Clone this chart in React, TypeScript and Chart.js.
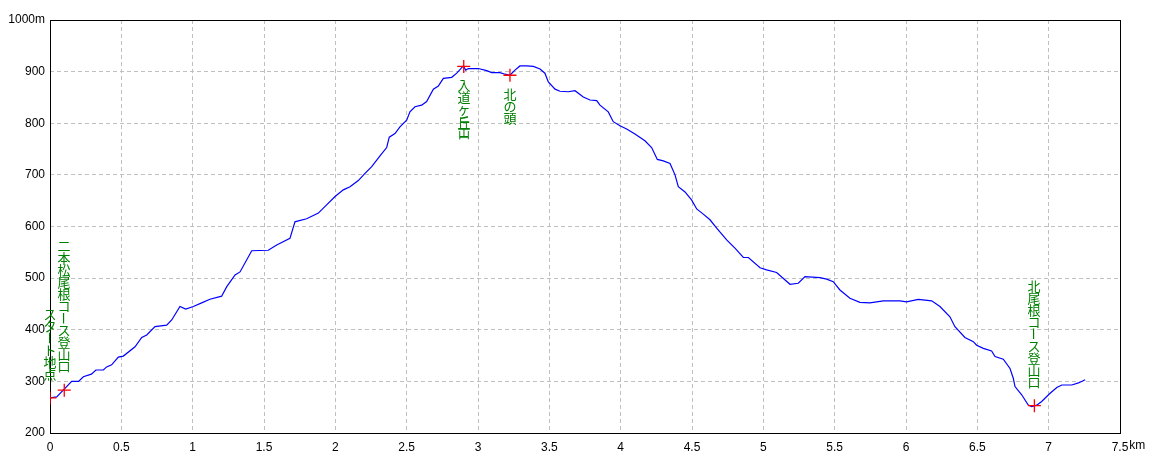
import React, { useEffect, useRef } from "react";
import { Chart, registerables } from "chart.js";

Chart.register(...registerables);

// Elevation profile (distance in km, elevation in m)
const distanceKm = [
  0, 0.047, 0.093, 0.152, 0.2, 0.234, 0.29, 0.322, 0.374, 0.397,
  0.432, 0.479, 0.514, 0.596, 0.643, 0.678, 0.736, 0.818, 0.853, 0.911,
  0.951, 1.005, 1.063, 1.121, 1.203, 1.238, 1.297, 1.332, 1.414, 1.53,
  1.589, 1.682, 1.717, 1.741, 1.799, 1.881, 1.939, 1.998, 2.056, 2.103,
  2.161, 2.208, 2.255, 2.313, 2.36, 2.378, 2.418, 2.453, 2.5, 2.523,
  2.558, 2.605, 2.64, 2.687, 2.722, 2.757, 2.816, 2.851, 2.897, 2.914,
  2.932, 3.002, 3.061, 3.096, 3.154, 3.189, 3.224, 3.259, 3.294, 3.341,
  3.388, 3.435, 3.469, 3.493, 3.54, 3.575, 3.633, 3.68, 3.738, 3.785,
  3.832, 3.855, 3.913, 3.948, 3.995, 4.042, 4.1, 4.17, 4.217, 4.257,
  4.299, 4.346, 4.381, 4.404, 4.451, 4.498, 4.533, 4.579, 4.626, 4.673,
  4.743, 4.801, 4.86, 4.895, 4.977, 5.023, 5.093, 5.187, 5.245, 5.292,
  5.397, 5.444, 5.49, 5.537, 5.607, 5.677, 5.747, 5.841, 5.958, 6.004,
  6.086, 6.18, 6.238, 6.308, 6.343, 6.413, 6.472, 6.495, 6.542, 6.6,
  6.624, 6.682, 6.729, 6.752, 6.764, 6.811, 6.857, 6.881, 6.916, 6.951,
  7.01, 7.057, 7.092, 7.162, 7.209, 7.256,
];

const elevationM = [
  268, 270, 283, 300, 300, 309, 314, 322, 322, 328,
  332, 347, 349, 367, 385, 390, 406, 409, 419, 445,
  440, 445, 452, 459, 465, 483, 506, 512, 553, 554,
  564, 577, 609, 611, 615, 626, 642, 658, 671, 677,
  689, 703, 716, 737, 753, 773, 780, 793, 806, 822,
  832, 835, 842, 866, 872, 887, 889, 897, 911, 903,
  906, 906, 902, 898, 898, 895, 893, 903, 911, 911,
  910, 905, 897, 880, 866, 862, 861, 863, 851, 845,
  844, 835, 822, 803, 795, 789, 779, 766, 753, 730,
  727, 722, 700, 677, 667, 651, 634, 624, 613, 597,
  574, 558, 540, 540, 520, 516, 511, 488, 490, 503,
  501, 498, 493, 477, 461, 453, 452, 456, 456, 454,
  459, 456, 445, 425, 406, 385, 377, 370, 364, 359,
  348, 343, 325, 306, 290, 274, 254, 251, 254, 261,
  277, 288, 293, 293, 297, 303,
];

// Waypoints
const waypointNames = ["スタート地点", "二本松尾根コース登山口", "入道ヶ岳", "北の頭", "北尾根コース登山口"];
const waypointDistKm = [0, 0.1, 2.9, 3.224, 6.9];
const waypointElevM = [268, 283, 910, 893, 253];

// Axis ticks
const xMin = 0;
const xMax = 7.5;
const xStep = 0.5;
const yMin = 200;
const yMax = 1000;
const yStep = 100;
const xUnit = "km";
const yUnit = "m";

const tickFamily = '"Liberation Sans Narrow", "Liberation Sans", Arial, sans-serif';
const tickFont = `12px ${tickFamily}`;
const labelFont = '13px "Noto Sans CJK JP", sans-serif';

const framePlugin = {
  id: "frame",
  beforeDatasetsDraw(chart: any) {
    const { ctx, chartArea } = chart;
    ctx.save();
    ctx.strokeStyle = "#000000";
    ctx.lineWidth = 1;
    ctx.setLineDash([]);
    ctx.strokeRect(
      Math.round(chartArea.left) + 0.5,
      Math.round(chartArea.top) + 0.5,
      Math.round(chartArea.right - chartArea.left),
      Math.round(chartArea.bottom - chartArea.top)
    );
    ctx.restore();
  },
  afterDraw(chart: any) {
    const { ctx } = chart;
    const x = chart.scales.x;
    const y = chart.scales.y;
    ctx.save();
    ctx.font = tickFont;
    ctx.fillStyle = "#000000";
    ctx.textBaseline = "top";
    ctx.textAlign = "left";
    const lastLabel = String(xMax);
    const w = ctx.measureText(lastLabel).width;
    const px = x.getPixelForValue(xMax) + w / 2 + 1;
    ctx.fillText(xUnit, px, y.bottom + 7);
    ctx.restore();
  },
};

const labelPlugin = {
  id: "waypointLabels",
  afterDatasetsDraw(chart: any) {
    const { ctx } = chart;
    const x = chart.scales.x;
    const y = chart.scales.y;
    const pitch = 12;
    ctx.save();
    ctx.fillStyle = "#008000";
    ctx.font = labelFont;
    ctx.textAlign = "center";
    ctx.textBaseline = "middle";
    waypointNames.forEach((name, i) => {
      const px = Math.round(x.getPixelForValue(waypointDistKm[i]));
      const py = y.getPixelForValue(waypointElevM[i]);
      const chars = Array.from(name);
      const cells = chars.map((c) => (c === "岳" ? 2 : 1));
      const total = cells.reduce((a, b) => a + b, 0) * pitch;
      const above = waypointElevM[i] < 600;
      let top = above ? py - 18 - total : py + 13;
      chars.forEach((c, k) => {
        const h = cells[k] * pitch;
        const cy = top + h / 2;
        ctx.save();
        ctx.translate(px, cy);
        if (c === "ー") {
          ctx.rotate(Math.PI / 2);
        }
        if (cells[k] > 1) {
          ctx.scale(1, cells[k] * 0.95);
        }
        ctx.fillText(c, 0, 0);
        ctx.restore();
        top += h;
      });
    });
    ctx.restore();
  },
};

export default function App() {
  const canvasRef = useRef<HTMLCanvasElement | null>(null);

  useEffect(() => {
    document.body.style.margin = "0";
    const canvas = canvasRef.current;
    if (!canvas) return;

    const profile = distanceKm.map((d, i) => ({ x: d, y: elevationM[i] }));
    const points = waypointDistKm.map((d, i) => ({ x: d, y: waypointElevM[i] }));

    const chart = new Chart(canvas, {
      type: "scatter",
      data: {
        datasets: [
          {
            type: "scatter",
            data: points,
            pointStyle: "cross",
            pointRadius: 6.5,
            pointHoverRadius: 6.5,
            borderColor: "#ff0000",
            backgroundColor: "#ff0000",
            pointBorderWidth: 1.3,
            order: 0,
          } as any,
          {
            type: "line",
            data: profile,
            borderColor: "#0000ff",
            borderWidth: 1.2,
            pointRadius: 0,
            tension: 0,
            fill: false,
            showLine: true,
            order: 1,
          } as any,
        ],
      },
      options: {
        animation: false,
        responsive: true,
        maintainAspectRatio: false,
        layout: { padding: { top: 20, right: 40, left: 0, bottom: 0 } },
        plugins: {
          legend: { display: false },
          tooltip: { enabled: false },
        },
        events: [],
        scales: {
          x: {
            type: "linear",
            min: xMin,
            max: xMax,
            afterFit(scale: any) {
              scale.height = 31;
            },
            border: { display: false, dash: [4, 3] },
            grid: {
              drawTicks: false,
              lineWidth: 1,
              color: (c: any) =>
                c.tick && (c.tick.value === xMin || c.tick.value === xMax) ? "rgba(0,0,0,0)" : "#c0c0c0",
            },
            ticks: {
              stepSize: xStep,
              padding: 7,
              color: "#000000",
              font: { family: tickFamily, size: 12 },
              maxRotation: 0,
              autoSkip: false,
              callback: (v: any) => String(Number(v)),
            },
          },
          y: {
            type: "linear",
            min: yMin,
            max: yMax,
            afterFit(scale: any) {
              scale.width = 50;
            },
            border: { display: false, dash: [4, 3] },
            grid: {
              drawTicks: false,
              lineWidth: 1,
              color: (c: any) =>
                c.tick && (c.tick.value === yMin || c.tick.value === yMax) ? "rgba(0,0,0,0)" : "#c0c0c0",
            },
            ticks: {
              stepSize: yStep,
              padding: 5,
              color: "#000000",
              font: { family: tickFamily, size: 12 },
              autoSkip: false,
              callback: (v: any) => (Number(v) === yMax ? `${v}${yUnit}` : String(v)),
            },
          },
        },
      } as any,
      plugins: [framePlugin, labelPlugin],
    });

    return () => chart.destroy();
  }, []);

  return (
    <div style={{ width: 1160, height: 464, position: "relative", background: "#ffffff" }}>
      <canvas ref={canvasRef} />
    </div>
  );
}
